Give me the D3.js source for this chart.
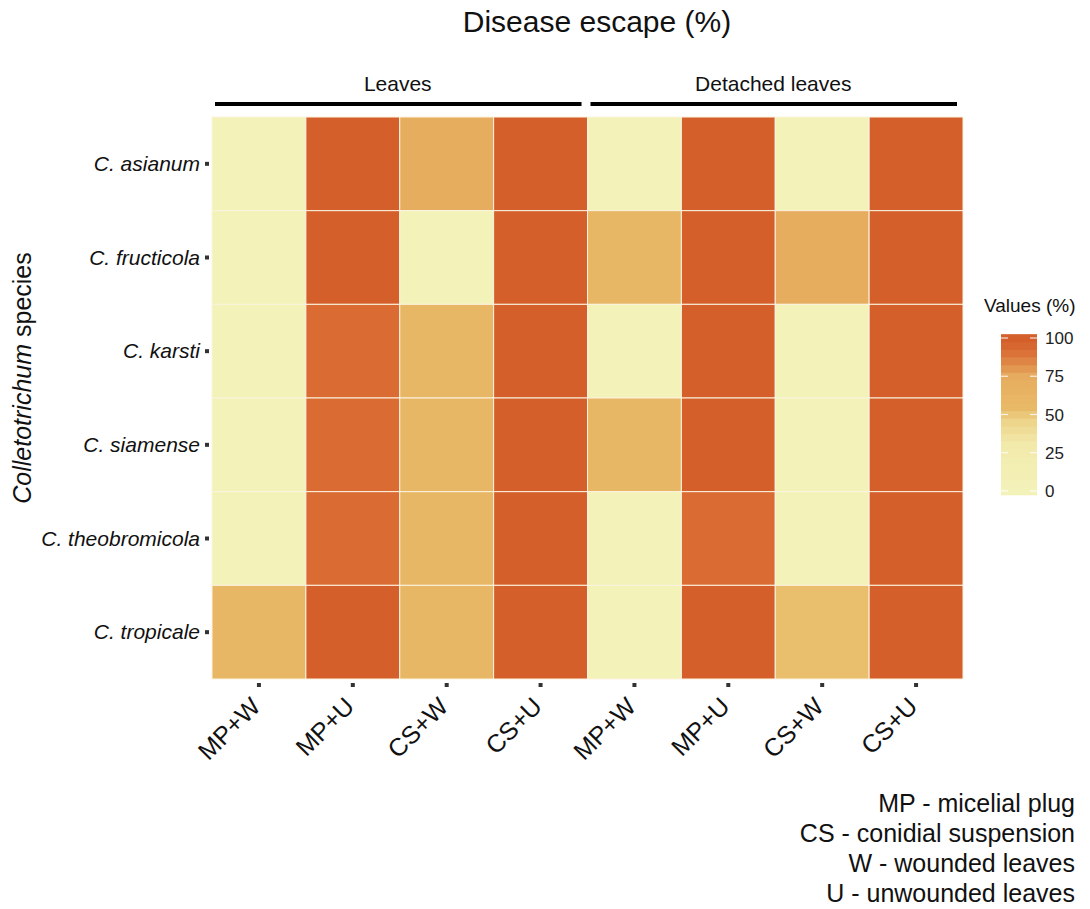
<!DOCTYPE html>
<html>
<head>
<meta charset="utf-8">
<script src="https://cdn.jsdelivr.net/npm/d3@7"></script>
<style>
  body { margin: 0; background: #fff; }
  text { font-family: "Liberation Sans", Arial, sans-serif; }
</style>
</head>
<body>
<div id="chart"></div>
<script>
// Heatmap of disease escape

var species = ['C. asianum', 'C. fructicola', 'C. karsti', 'C. siamense', 'C. theobromicola', 'C. tropicale'];
var treatments = ['MP+W', 'MP+U', 'CS+W', 'CS+U'];
var groups = ['Leaves', 'Detached leaves'];

// values per species, in treatment order
var leavesValues = [
    [0, 100, 72, 100],
    [0, 100, 0, 100],
    [0, 92, 58, 100],
    [0, 92, 58, 100],
    [0, 92, 58, 100],
    [58, 100, 58, 100]
];
var detachedValues = [
    [0, 100, 0, 100],
    [58, 100, 72, 100],
    [0, 100, 0, 100],
    [58, 100, 0, 100],
    [0, 92, 0, 100],
    [0, 100, 53, 100]
];
var legendTicks = [0, 25, 50, 75, 100];
var notes = ['MP - micelial plug', 'CS - conidial suspension', 'W - wounded leaves', 'U - unwounded leaves'];

var width = 1090, height = 909;
var margin = {top: 117, left: 212, right: 127, bottom: 230};

var svg = d3.select('#chart').append('svg')
    .attr('width', width)
    .attr('height', height);

// Build cell table
var columns = [];
groups.forEach(function(g) {
    treatments.forEach(function(t) { columns.push(g + '|' + t); });
});
var cells = [];
species.forEach(function(s, i) {
    treatments.forEach(function(t, j) {
        cells.push({species: s, col: groups[0] + '|' + t, value: leavesValues[i][j]});
        cells.push({species: s, col: groups[1] + '|' + t, value: detachedValues[i][j]});
    });
});

var x = d3.scaleBand().domain(columns).range([margin.left, width - margin.right]);
var y = d3.scaleBand().domain(species).range([margin.top, height - margin.bottom]);

var color = d3.scaleLinear()
    .domain([0, 30, 45, 55, 75, 92, 100])
    .range(['#f3f2b9', '#f2eaab', '#eed58c', '#e8b966', '#e6ab5e', '#d96b33', '#d45f2b']);

// Cells
svg.append('g').selectAll('rect')
    .data(cells)
    .enter().append('rect')
    .attr('x', function(d) { return x(d.col); })
    .attr('y', function(d) { return y(d.species); })
    .attr('width', x.bandwidth())
    .attr('height', y.bandwidth())
    .attr('fill', function(d) { return color(d.value); })
    .attr('stroke', '#fbf3e0')
    .attr('stroke-width', 1);

// Title
svg.append('text')
    .attr('x', 597).attr('y', 32)
    .attr('text-anchor', 'middle')
    .style('font-size', '30px')
    .attr('fill', '#111')
    .text('Disease escape (%)');

// Group headers with bars
groups.forEach(function(g) {
    var x0 = x(g + '|' + treatments[0]);
    var x1 = x(g + '|' + treatments[treatments.length - 1]) + x.bandwidth();
    svg.append('line')
        .attr('x1', x0 + 3).attr('x2', x1 - 6)
        .attr('y1', 104).attr('y2', 104)
        .attr('stroke', '#000').attr('stroke-width', 4);
    svg.append('text')
        .attr('x', (x0 + x1) / 2 - 2).attr('y', 91)
        .attr('text-anchor', 'middle')
        .style('font-size', '21px')
        .attr('fill', '#111')
        .text(g);
});

// Y axis labels and ticks
var yAxis = svg.append('g');
species.forEach(function(s) {
    var cy = y(s) + y.bandwidth() / 2;
    yAxis.append('rect')
        .attr('x', 205).attr('y', cy - 2)
        .attr('width', 4).attr('height', 4)
        .attr('fill', '#333');
    yAxis.append('text')
        .attr('x', 200).attr('y', cy + 7)
        .attr('text-anchor', 'end')
        .style('font-size', '21px')
        .style('font-style', 'italic')
        .attr('fill', '#111')
        .text(s);
});

// X axis labels and ticks
var xAxis = svg.append('g');
columns.forEach(function(c) {
    var cx = x(c) + x.bandwidth() / 2;
    var lab = c.split('|')[1];
    xAxis.append('rect')
        .attr('x', cx - 2).attr('y', 683)
        .attr('width', 4).attr('height', 4)
        .attr('fill', '#333');
    xAxis.append('text')
        .attr('transform', 'translate(' + (cx + 3) + ',' + 708 + ') rotate(-45)')
        .attr('text-anchor', 'end')
        .style('font-size', '25px')
        .attr('fill', '#111')
        .text(lab);
});

// Y axis title
var yTitle = svg.append('text')
    .attr('transform', 'translate(31,' + 378 + ') rotate(-90)')
    .attr('text-anchor', 'middle')
    .style('font-size', '25px')
    .attr('fill', '#111');
yTitle.append('tspan').style('font-style', 'italic').text('Colletotrichum');
yTitle.append('tspan').text(' species');

// Legend
var ly = d3.scaleLinear().domain([0, 100]).range([491, 338]);
var legend = svg.append('g');
legend.append('text')
    .attr('x', 984).attr('y', 312)
    .style('font-size', '19px')
    .attr('fill', '#111')
    .text('Values (%)');
var steps = d3.range(0, 101, 5);
var stepH = (ly(0) - ly(5));
legend.selectAll('rect.bin')
    .data(steps)
    .enter().append('rect')
    .attr('class', 'bin')
    .attr('x', 1001).attr('width', 36)
    .attr('y', function(d) { return ly(d) - stepH / 2; })
    .attr('height', stepH + 0.5)
    .attr('fill', function(d) { return color(d); });
legendTicks.forEach(function(t) {
    legend.append('line')
        .attr('x1', 1001).attr('x2', 1008)
        .attr('y1', ly(t)).attr('y2', ly(t))
        .attr('stroke', '#fff').attr('stroke-width', 1.2).attr('opacity', 0.8);
    legend.append('line')
        .attr('x1', 1030).attr('x2', 1037)
        .attr('y1', ly(t)).attr('y2', ly(t))
        .attr('stroke', '#fff').attr('stroke-width', 1.2).attr('opacity', 0.8);
    legend.append('text')
        .attr('x', 1045).attr('y', ly(t) + 6)
        .style('font-size', '17px')
        .attr('fill', '#222')
        .text(t);
});

// Abbreviation notes
svg.append('g').selectAll('text')
    .data(notes)
    .enter().append('text')
    .attr('x', 1075)
    .attr('y', function(d, i) { return 812 + i * 30; })
    .attr('text-anchor', 'end')
    .style('font-size', '25px')
    .attr('fill', '#111')
    .text(function(d) { return d; });
</script>
</body>
</html>
